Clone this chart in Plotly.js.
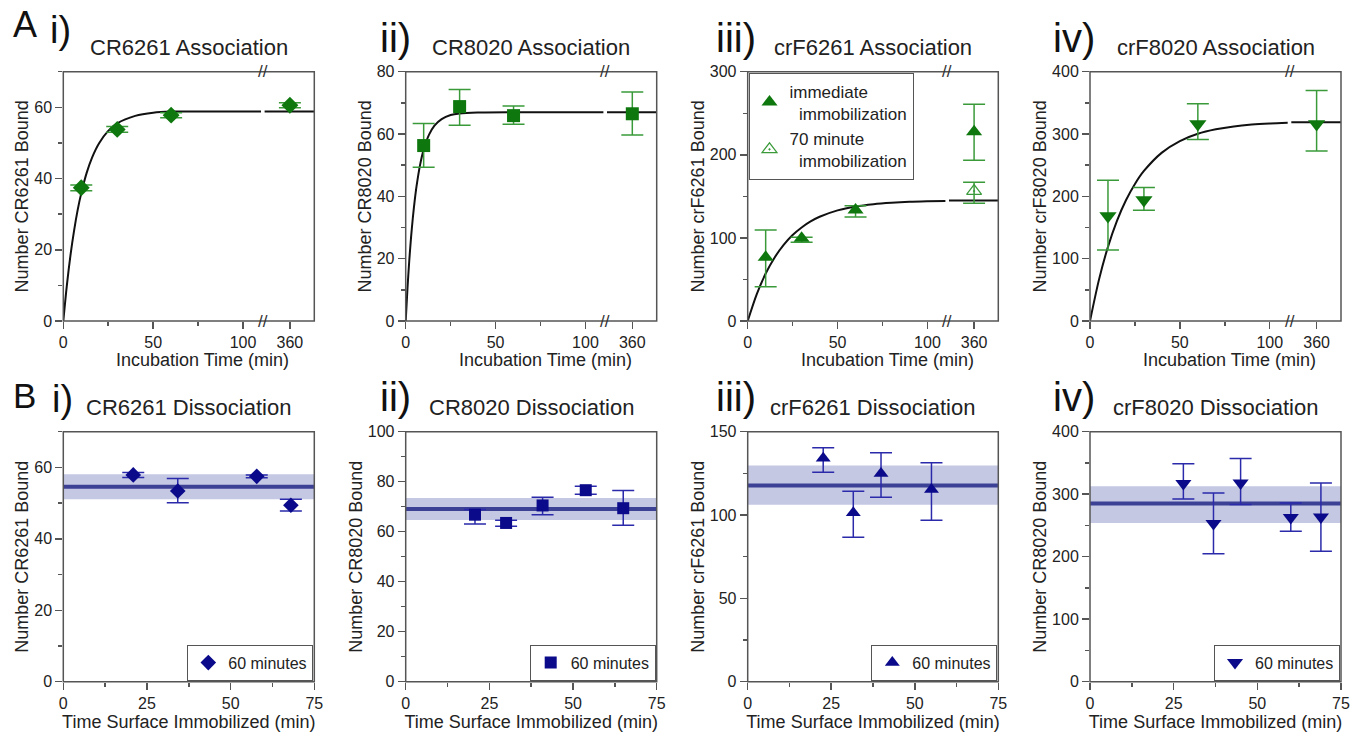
<!DOCTYPE html>
<html><head><meta charset="utf-8">
<script src="https://cdn.plot.ly/plotly-3.0.1.min.js"></script>
<style>html,body{margin:0;padding:0;background:#fff}#chart{width:1361px;height:732px}</style>
</head><body><div id="chart"></div>
<script>
// ---------------- DATA ----------------
// A i) CR6261 Association
const aiTime = [10, 30, 60, 360];
const aiBound = [37.4, 53.8, 57.8, 60.6];
const aiHi = [38.2, 54.6, 58.5, 61.3];
const aiLo = [36.6, 53.0, 57.1, 59.9];
const aiFitT = [0, 2, 4, 6, 8, 10, 13, 16, 20, 25, 30, 40, 50, 60, 75, 90, 110];
const aiFitY = [0, 10.1, 18.5, 25.4, 31.2, 35.9, 41.6, 45.9, 50.0, 53.4, 55.5, 57.6, 58.5, 58.8, 58.8, 58.8, 58.8];
const aiFitLateT = [346, 400];
const aiFitLateY = [58.8, 58.8];

// A ii) CR8020 Association
const aiiTime = [10, 30, 60, 360];
const aiiBound = [56.3, 68.8, 65.9, 66.5];
const aiiHi = [63.4, 74.3, 69.0, 73.5];
const aiiLo = [49.3, 62.8, 63.1, 59.7];
const aiiFitT = [0, 1, 2, 3, 4, 5, 6, 8, 10, 13, 16, 20, 25, 30, 40, 60, 110];
const aiiFitY = [0, 10.6, 19.5, 27.0, 33.3, 38.6, 43.1, 50.1, 55.0, 59.8, 62.7, 64.8, 66.1, 66.6, 66.9, 67.0, 67.0];
const aiiFitLateT = [346, 400];
const aiiFitLateY = [67.0, 67.0];

// A iii) crF6261 Association
const aiiiTime = [10, 30, 60, 360];
const aiiiBound = [76.6, 99.5, 133.6, 227.8];
const aiiiHi = [109.5, 100.7, 138.8, 260.7];
const aiiiLo = [41.3, 94.7, 125.0, 193.3];
const aiii70Time = [360];
const aiii70Bound = [156.4];
const aiii70Hi = [166.9];
const aiii70Lo = [141.6];
const aiiiFitT = [0, 5, 10, 15, 20, 25, 30, 35, 40, 50, 60, 70, 80, 90, 100, 110];
const aiiiFitY = [0, 32.1, 57.1, 76.5, 91.7, 103.5, 112.6, 119.8, 125.4, 133.1, 137.8, 140.6, 142.3, 143.4, 144.0, 144.4];
const aiiiFitLateT = [346, 400];
const aiiiFitLateY = [145, 145];

// A iv) crF8020 Association
const aivTime = [10, 30, 60, 360];
const aivBound = [168.4, 194.0, 316.0, 316.0];
const aivHi = [226.0, 214.4, 348.7, 370.0];
const aivLo = [113.9, 177.5, 291.4, 272.7];
const aivFitT = [0, 5, 10, 15, 20, 25, 30, 40, 50, 60, 70, 80, 90, 100, 110];
const aivFitY = [0, 66.4, 119.0, 160.7, 193.7, 219.9, 240.7, 270.2, 288.7, 300.4, 307.6, 312.2, 315.1, 316.9, 318.1];
const aivFitLateT = [346, 400];
const aivFitLateY = [319, 319];

// B i) CR6261 Dissociation
const biTime = [20.9, 34.2, 57.8, 68.0];
const biBound = [57.9, 53.4, 57.5, 49.4];
const biHi = [58.6, 56.9, 57.9, 51.1];
const biLo = [57.2, 50.1, 57.1, 47.8];
const biBand = {mean: 54.6, hi: 58.1, lo: 51.1};

// B ii) CR8020 Dissociation
const biiTime = [20.7, 30.0, 40.9, 53.8, 65.0];
const biiBound = [66.8, 63.5, 70.5, 76.6, 69.4];
const biiHi = [68.9, 64.6, 73.8, 78.2, 76.5];
const biiLo = [63.1, 62.2, 66.8, 75.0, 62.6];
const biiBand = {mean: 69.1, hi: 73.5, lo: 64.7};

// B iii) crF6261 Dissociation
const biiiTime = [22.6, 31.6, 39.9, 55.0];
const biiiBound = [134.0, 101.3, 124.9, 115.3];
const biiiHi = [140.4, 114.3, 137.4, 131.3];
const biiiLo = [125.7, 86.6, 110.7, 96.9];
const biiiBand = {mean: 117.7, hi: 129.7, lo: 106.1};

// B iv) crF8020 Dissociation
const bivTime = [27.9, 36.9, 45.0, 60.0, 69.0];
const bivBound = [317.0, 253.0, 318.0, 262.6, 263.6];
const bivHi = [348.7, 302.0, 357.0, 286.0, 318.0];
const bivLo = [292.5, 204.8, 283.4, 240.6, 208.6];
const bivBand = {mean: 285.0, hi: 312.8, lo: 254.0};

const bandTime = [0, 75];
const breakAt = 111;

// ---------------- STYLE / LAYOUT ----------------
const W = 1361, H = 732;
const FONT = '"Liberation Sans", Arial, Helvetica, sans-serif';
const fx = p => p / W, fy = p => 1 - p / H;
const GREEN = '#0e780e', GREEN_ERR = '#3a9a3a';
const BLUE = '#0a0a8a', BLUE_ERR = '#2a2aaa';
const BANDC = 'rgba(140,146,200,0.5)', MEANC = '#3d4196';
const FRAME = '#555';

const colL = [63.3, 405.7, 747.7, 1090];
const colR = [314.3, 656.7, 998.3, 1341];
const rowA = [71.7, 321];
const rowB = [431.7, 681.7];
const BRK = 199.5; // px offset of axis break from left edge

const xn = n => n === 1 ? 'x' : 'x' + n;
const yn = n => n === 1 ? 'y' : 'y' + n;
const xk = n => n === 1 ? 'xaxis' : 'xaxis' + n;
const yk = n => n === 1 ? 'yaxis' : 'yaxis' + n;

const tickBase = {
  ticks: 'outside', ticklen: 7, tickwidth: 1.5, tickcolor: FRAME,
  showgrid: false, zeroline: false, showline: false,
  tickfont: {size: 16, color: '#222', family: FONT}, fixedrange: true
};

const traces = [];
const layout = {
  width: W, height: H, margin: {l: 0, r: 0, t: 0, b: 0},
  paper_bgcolor: '#fff', plot_bgcolor: 'rgba(0,0,0,0)',
  font: {family: FONT, color: '#222'}, showlegend: true,
  shapes: [], annotations: []
};

function errTrace(x, y, hi, lo, xa, ya, symbol, size, color, ecolor, name, legend, showlegend, open) {
  return {
    type: 'scatter', mode: 'markers', x: x, y: y, xaxis: xa, yaxis: ya,
    name: name, legend: legend, showlegend: showlegend, cliponaxis: false,
    marker: {symbol: symbol, size: size, color: color,
             line: {width: open ? 1.2 : 0, color: color}},
    error_y: {type: 'data', symmetric: false,
      array: hi.map((h, i) => h - y[i]), arrayminus: y.map((v, i) => v - lo[i]),
      color: ecolor, thickness: 1.5, width: 11}
  };
}

function frame(k, row) {
  layout.shapes.push({type: 'rect', xref: 'paper', yref: 'paper', layer: 'above',
    x0: fx(colL[k]), x1: fx(colR[k]), y0: fy(row[1]), y1: fy(row[0]),
    line: {color: FRAME, width: 1.5}, fillcolor: 'rgba(0,0,0,0)'});
}

function yAxis(k, row, range, dtick, minor, title, anchor) {
  return Object.assign({}, tickBase, {
    domain: [fy(row[1]), fy(row[0])], range: range, anchor: anchor,
    tick0: 0, dtick: dtick,
    minor: {ticks: 'outside', ticklen: 4, tickwidth: 1.5, tickcolor: FRAME, dtick: minor, tick0: 0, showgrid: false},
    title: {text: title, font: {size: 18, color: '#222', family: FONT}, standoff: 0}
  });
}

// ---- Row A ----
const panelsA = [
  {t: aiTime, y: aiBound, hi: aiHi, lo: aiLo, fT: aiFitT, fY: aiFitY, lT: aiFitLateT, lY: aiFitLateY,
   sym: 'diamond', size: 13, range: [0, 70], dtick: 20, minor: 10, ytitle: 'Number CR6261 Bound', title: 'CR6261 Association'},
  {t: aiiTime, y: aiiBound, hi: aiiHi, lo: aiiLo, fT: aiiFitT, fY: aiiFitY, lT: aiiFitLateT, lY: aiiFitLateY,
   sym: 'square', size: 13, range: [0, 80], dtick: 20, minor: 10, ytitle: 'Number CR8020 Bound', title: 'CR8020 Association'},
  {t: aiiiTime, y: aiiiBound, hi: aiiiHi, lo: aiiiLo, fT: aiiiFitT, fY: aiiiFitY, lT: aiiiFitLateT, lY: aiiiFitLateY,
   sym: 'triangle-up', size: 14, range: [0, 300], dtick: 100, minor: 50, ytitle: 'Number crF6261 Bound', title: 'crF6261 Association'},
  {t: aivTime, y: aivBound, hi: aivHi, lo: aivLo, fT: aivFitT, fY: aivFitY, lT: aivFitLateT, lY: aivFitLateY,
   sym: 'triangle-down', size: 15, range: [0, 400], dtick: 100, minor: 50, ytitle: 'Number crF8020 Bound', title: 'crF8020 Association'}
];

panelsA.forEach((p, k) => {
  const n1 = 2 * k + 1, n2 = 2 * k + 2, ny = k + 1;
  const L = colL[k], R = colR[k];
  layout[xk(n1)] = Object.assign({}, tickBase, {
    domain: [fx(L), fx(L + BRK)], range: [0, breakAt], anchor: yn(ny), tick0: 0, dtick: 50,
    minor: {ticks: 'outside', ticklen: 4, tickwidth: 1.5, tickcolor: FRAME, dtick: 25, tick0: 0, showgrid: false}
  });
  layout[xk(n2)] = Object.assign({}, tickBase, {
    domain: [fx(L + BRK), fx(R)], range: [345, 373.5], anchor: yn(ny), tickvals: [360], ticktext: ['360']
  });
  layout[yk(ny)] = yAxis(k, rowA, p.range, p.dtick, p.minor, p.ytitle, xn(n1));
  frame(k, rowA);

  const early = p.t.map((t, i) => i).filter(i => p.t[i] <= breakAt);
  const late = p.t.map((t, i) => i).filter(i => p.t[i] > breakAt);
  const pick = (arr, idx) => idx.map(i => arr[i]);

  traces.push({type: 'scatter', mode: 'lines', x: p.fT, y: p.fY, xaxis: xn(n1), yaxis: yn(ny),
    line: {color: '#111', width: 2, shape: 'spline', smoothing: 0.8}, showlegend: false, hoverinfo: 'skip'});
  traces.push({type: 'scatter', mode: 'lines', x: p.lT, y: p.lY, xaxis: xn(n2), yaxis: yn(ny),
    line: {color: '#111', width: 2}, showlegend: false, hoverinfo: 'skip'});

  const isLeg = (k === 2);
  const legName = 'immediate<br>\u00a0\u00a0immobilization';
  traces.push(errTrace(pick(p.t, early), pick(p.y, early), pick(p.hi, early), pick(p.lo, early),
    xn(n1), yn(ny), p.sym, p.size, GREEN, GREEN_ERR, legName, 'legend', isLeg));
  traces.push(errTrace(pick(p.t, late), pick(p.y, late), pick(p.hi, late), pick(p.lo, late),
    xn(n2), yn(ny), p.sym, p.size, GREEN, GREEN_ERR, legName, 'legend', false));

  if (isLeg) {
    traces.push(errTrace(aiii70Time, aiii70Bound, aiii70Hi, aiii70Lo, xn(n2), yn(ny),
      'triangle-up-open-dot', 13, GREEN_ERR, GREEN_ERR, '70 minute<br>\u00a0\u00a0immobilization', 'legend', true, true));
  }

  layout.annotations.push({xref: 'paper', yref: 'paper', x: fx((L + R) / 2), y: fy(48),
    xanchor: 'center', yanchor: 'middle', showarrow: false, text: p.title,
    font: {size: 22, color: '#222', family: FONT}});
  layout.annotations.push({xref: 'paper', yref: 'paper', x: fx((L + R) / 2 + 14), y: fy(360),
    xanchor: 'center', yanchor: 'middle', showarrow: false, text: 'Incubation Time (min)',
    font: {size: 18, color: '#222', family: FONT}});
  [rowA[0], rowA[1]].forEach(yy => layout.annotations.push({xref: 'paper', yref: 'paper',
    x: fx(L + BRK), y: fy(yy), xanchor: 'center', yanchor: 'middle', showarrow: false, text: '//',
    font: {size: 17, color: '#333', family: FONT}}));
});

layout.legend = {x: fx(748.5), y: fy(72.5), xanchor: 'left', yanchor: 'top', bgcolor: '#fff',
  bordercolor: FRAME, borderwidth: 1, font: {size: 17, color: '#222', family: FONT},
  itemwidth: 30, tracegroupgap: 2, valign: 'middle', traceorder: 'normal'};

// ---- Row B ----
const panelsB = [
  {t: biTime, y: biBound, hi: biHi, lo: biLo, band: biBand, sym: 'diamond', size: 12,
   range: [0, 70], dtick: 20, minor: 10, ytitle: 'Number CR6261 Bound', title: 'CR6261 Dissociation'},
  {t: biiTime, y: biiBound, hi: biiHi, lo: biiLo, band: biiBand, sym: 'square', size: 12,
   range: [0, 100], dtick: 20, minor: 10, ytitle: 'Number CR8020 Bound', title: 'CR8020 Dissociation'},
  {t: biiiTime, y: biiiBound, hi: biiiHi, lo: biiiLo, band: biiiBand, sym: 'triangle-up', size: 13,
   range: [0, 150], dtick: 50, minor: 25, ytitle: 'Number crF6261 Bound', title: 'crF6261 Dissociation'},
  {t: bivTime, y: bivBound, hi: bivHi, lo: bivLo, band: bivBand, sym: 'triangle-down', size: 14,
   range: [0, 400], dtick: 100, minor: 50, ytitle: 'Number CR8020 Bound', title: 'crF8020 Dissociation'}
];

panelsB.forEach((p, k) => {
  const nx = 9 + k, ny = 5 + k;
  const L = colL[k], R = colR[k];
  layout[xk(nx)] = Object.assign({}, tickBase, {
    domain: [fx(L), fx(R)], range: [0, 75], anchor: yn(ny), tick0: 0, dtick: 25,
    minor: {ticks: 'outside', ticklen: 4, tickwidth: 1.5, tickcolor: FRAME, dtick: 12.5, tick0: 0, showgrid: false},
    title: {text: 'Time Surface Immobilized (min)', font: {size: 18, color: '#222', family: FONT}, standoff: 4}
  });
  layout[yk(ny)] = yAxis(k, rowB, p.range, p.dtick, p.minor, p.ytitle, xn(nx));
  frame(k, rowB);

  traces.push({type: 'scatter', mode: 'lines', x: bandTime, y: bandTime.map(() => p.band.lo),
    xaxis: xn(nx), yaxis: yn(ny), line: {width: 0, color: BANDC}, showlegend: false, hoverinfo: 'skip'});
  traces.push({type: 'scatter', mode: 'lines', x: bandTime, y: bandTime.map(() => p.band.hi),
    xaxis: xn(nx), yaxis: yn(ny), line: {width: 0, color: BANDC}, fill: 'tonexty', fillcolor: BANDC,
    showlegend: false, hoverinfo: 'skip'});
  traces.push({type: 'scatter', mode: 'lines', x: bandTime, y: bandTime.map(() => p.band.mean),
    xaxis: xn(nx), yaxis: yn(ny), line: {width: 4, color: MEANC}, showlegend: false, hoverinfo: 'skip'});

  const legKey = 'legend' + (k + 2);
  traces.push(errTrace(p.t, p.y, p.hi, p.lo, xn(nx), yn(ny), p.sym, p.size, BLUE, BLUE_ERR,
    '60 minutes', legKey, true));
  layout[legKey] = {x: fx(R - 1), y: fy(rowB[1] - 1), xanchor: 'right', yanchor: 'bottom', bgcolor: '#fff',
    bordercolor: FRAME, borderwidth: 1, font: {size: 16, color: '#222', family: FONT}, itemwidth: 30,
    traceorder: 'normal'};

  layout.annotations.push({xref: 'paper', yref: 'paper', x: fx((L + R) / 2), y: fy(408),
    xanchor: 'center', yanchor: 'middle', showarrow: false, text: p.title,
    font: {size: 22, color: '#222', family: FONT}});
});

const labels = [
  {t: 'A', x: 11, y: 24.5, s: 36}, {t: 'i)', x: 48, y: 30, s: 38},
  {t: 'ii)', x: 378, y: 38, s: 40}, {t: 'iii)', x: 714, y: 38, s: 40}, {t: 'iv)', x: 1051, y: 38, s: 40},
  {t: 'B', x: 11, y: 395.5, s: 35}, {t: 'i)', x: 50, y: 399, s: 38},
  {t: 'ii)', x: 378, y: 397, s: 40}, {t: 'iii)', x: 714, y: 397, s: 40}, {t: 'iv)', x: 1051, y: 397, s: 40}
];
labels.forEach(l => layout.annotations.push({xref: 'paper', yref: 'paper', x: fx(l.x), y: fy(l.y),
  xanchor: 'left', yanchor: 'middle', showarrow: false, text: l.t,
  font: {size: l.s, color: '#111', family: FONT}}));

Plotly.newPlot('chart', traces, layout, {displayModeBar: false, staticPlot: true});
</script></body></html>
